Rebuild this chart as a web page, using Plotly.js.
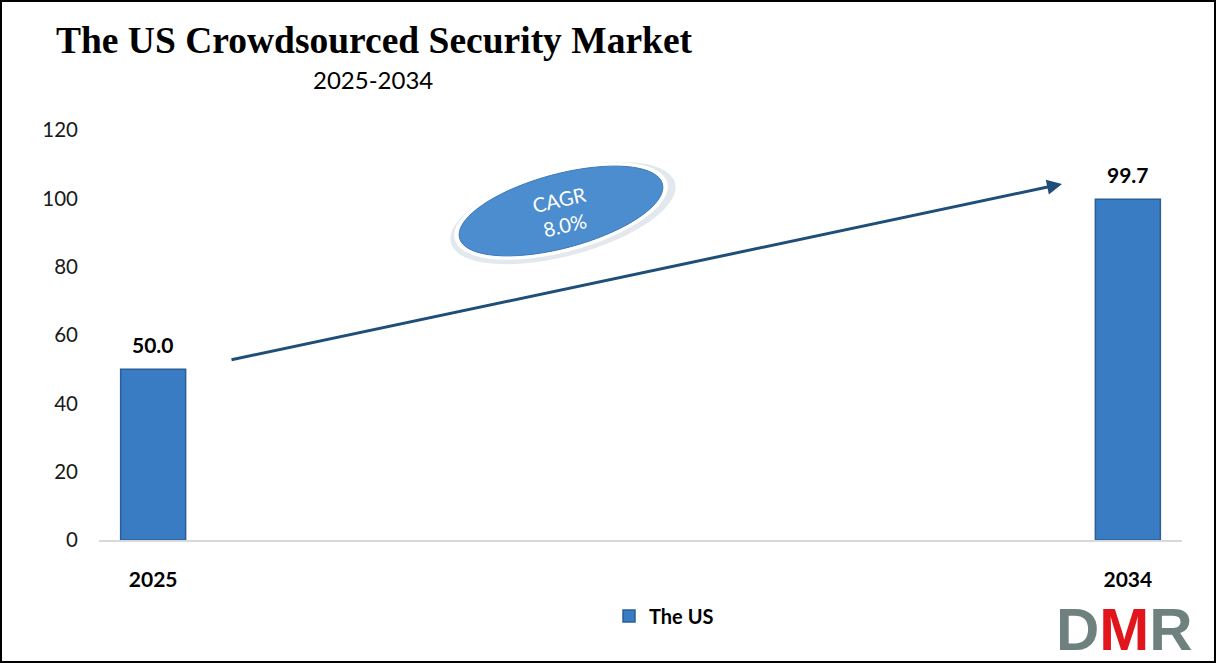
<!DOCTYPE html>
<html>
<head>
<meta charset="utf-8">
<script src="https://cdn.plot.ly/plotly-3.0.1.min.js"></script>
<style>
html,body{margin:0;padding:0;background:#fff;}
#wrap{width:1212px;height:659px;border:2px solid #000;position:relative;overflow:hidden;}
#chart{width:1212px;height:659px;}
</style>
</head>
<body>
<div id="wrap"><div id="chart"></div></div>
<script>
// Data
const years = [2025, 2034];
const values = [50.0, 99.7];
const valueLabels = ['50.0', '99.7'];
const seriesName = 'The US';
const titleText = 'The US Crowdsourced Security Market';
const subtitleText = '2025-2034';
const cagrText = 'CAGR<br>8.0%';
const yTicks = [0, 20, 40, 60, 80, 100, 120];

const W = 1212, H = 659;
const M = {l: 97, r: 32, t: 128, b: 121};
const PW = W - M.l - M.r, PH = H - M.t - M.b;
// pixel (page) -> paper helpers for decorations
function px(x){ return (x - 2 - M.l) / PW; }
function py(y){ return (H - M.b - (y - 2)) / PH; }

function ellipsePath(cx, cy, a, b, angDeg){
  const t = angDeg * Math.PI / 180;
  let d = '';
  for (let i = 0; i <= 72; i++){
    const u = i / 72 * 2 * Math.PI;
    const ex = a * Math.cos(u), ey = b * Math.sin(u);
    const X = cx + ex * Math.cos(t) - ey * Math.sin(t);
    const Y = cy + ex * Math.sin(t) + ey * Math.cos(t);
    d += (i === 0 ? 'M' : 'L') + px(X).toFixed(5) + ',' + py(Y).toFixed(5);
  }
  return d + 'Z';
}

const labelFont = {family: 'Lato, "Open Sans", sans-serif', size: 21, color: '#000', weight: 'bold'};

const trace = {
  type: 'bar',
  x: years,
  y: values,
  name: seriesName,
  width: 0.6,
  marker: {color: '#3a7cc3', line: {color: '#2b5e96', width: 1.5}},
  hoverinfo: 'none'
};

const valueAnnotations = years.map((yr, i) => ({
  text: '<b>' + valueLabels[i] + '</b>', x: yr, y: values[i], xref: 'x', yref: 'y',
  xanchor: 'center', yanchor: 'bottom', yshift: 10, showarrow: false, font: labelFont
}));

const layout = {
  width: W, height: H,
  margin: M,
  paper_bgcolor: '#fff', plot_bgcolor: '#fff',
  showlegend: true,
  bargap: 0.4,
  title: {
    text: '<b>' + titleText + '</b>',
    xref: 'container', yref: 'container',
    x: 372 / W, xanchor: 'center',
    y: 1 - 38 / H, yanchor: 'middle',
    font: {family: '"Liberation Serif", "Times New Roman", serif', size: 37.5, color: '#000'}
  },
  xaxis: {
    type: 'linear',
    range: [2024.5, 2034.5],
    tickvals: years,
    ticktext: years.map(String),
    ticks: '',
    showgrid: false,
    zeroline: false,
    showline: true, linecolor: '#d9d9d9', linewidth: 2,
    ticklabelstandoff: 20,
    tickfont: labelFont,
    fixedrange: true
  },
  yaxis: {
    range: [0, 120],
    tickvals: yTicks,
    ticks: '',
    showgrid: false,
    zeroline: false,
    showline: false,
    ticklabelstandoff: 20,
    tickfont: {family: 'Lato, "Open Sans", sans-serif', size: 20.5, color: '#1a1a1a'},
    fixedrange: true
  },
  legend: {
    orientation: 'h',
    x: px(664), xanchor: 'center',
    y: py(616), yanchor: 'middle',
    font: {family: 'Lato, "Open Sans", sans-serif', size: 20, color: '#000', weight: 'bold'},
    itemwidth: 30,
    bgcolor: 'rgba(0,0,0,0)'
  },
  shapes: [
    // glow / shadow of the CAGR ellipse
    {type: 'path', xref: 'paper', yref: 'paper', path: ellipsePath(563, 213, 116, 43, -15),
     fillcolor: 'rgba(185,198,212,0.4)', line: {width: 0}, layer: 'above'},
    {type: 'path', xref: 'paper', yref: 'paper', path: ellipsePath(561, 211, 110, 41, -15),
     fillcolor: '#ffffff', line: {width: 0}, layer: 'above'},
    {type: 'path', xref: 'paper', yref: 'paper', path: ellipsePath(561, 211, 105, 37, -15),
     fillcolor: '#4b8dcf', line: {color: '#3c78b8', width: 1}, layer: 'above'}
  ],
  annotations: valueAnnotations.concat([
    {text: subtitleText, xref: 'paper', yref: 'paper', x: px(373), y: py(80),
     xanchor: 'center', yanchor: 'middle', showarrow: false,
     font: {family: 'Lato, "Open Sans", sans-serif', size: 24, color: '#000'}},
    // growth arrow
    {text: '', xref: 'paper', yref: 'paper', axref: 'paper', ayref: 'paper',
     x: px(1062), y: py(184), ax: px(230), ay: py(360),
     showarrow: true, arrowhead: 2, arrowsize: 1, arrowwidth: 3, arrowcolor: '#1f4e79'},
    // CAGR text
    {text: cagrText, xref: 'paper', yref: 'paper', x: px(562), y: py(212),
     xanchor: 'center', yanchor: 'middle', showarrow: false, textangle: -13,
     font: {family: 'Lato, "Open Sans", sans-serif', size: 20, color: '#ffffff'}},
    // DMR logo
    {text: '<span style="color:#6f817e">D</span><span style="color:#e3151c">M</span><span style="color:#6f817e">R</span>',
     xref: 'paper', yref: 'paper', x: px(1124), y: py(629), height: 52,
     xanchor: 'center', yanchor: 'middle', showarrow: false,
     font: {family: '"Liberation Sans", Arial, sans-serif', size: 60, weight: 'bold'}}
  ])
};

Plotly.newPlot('chart', [trace], layout, {displayModeBar: false, staticPlot: true});
</script>
</body>
</html>
